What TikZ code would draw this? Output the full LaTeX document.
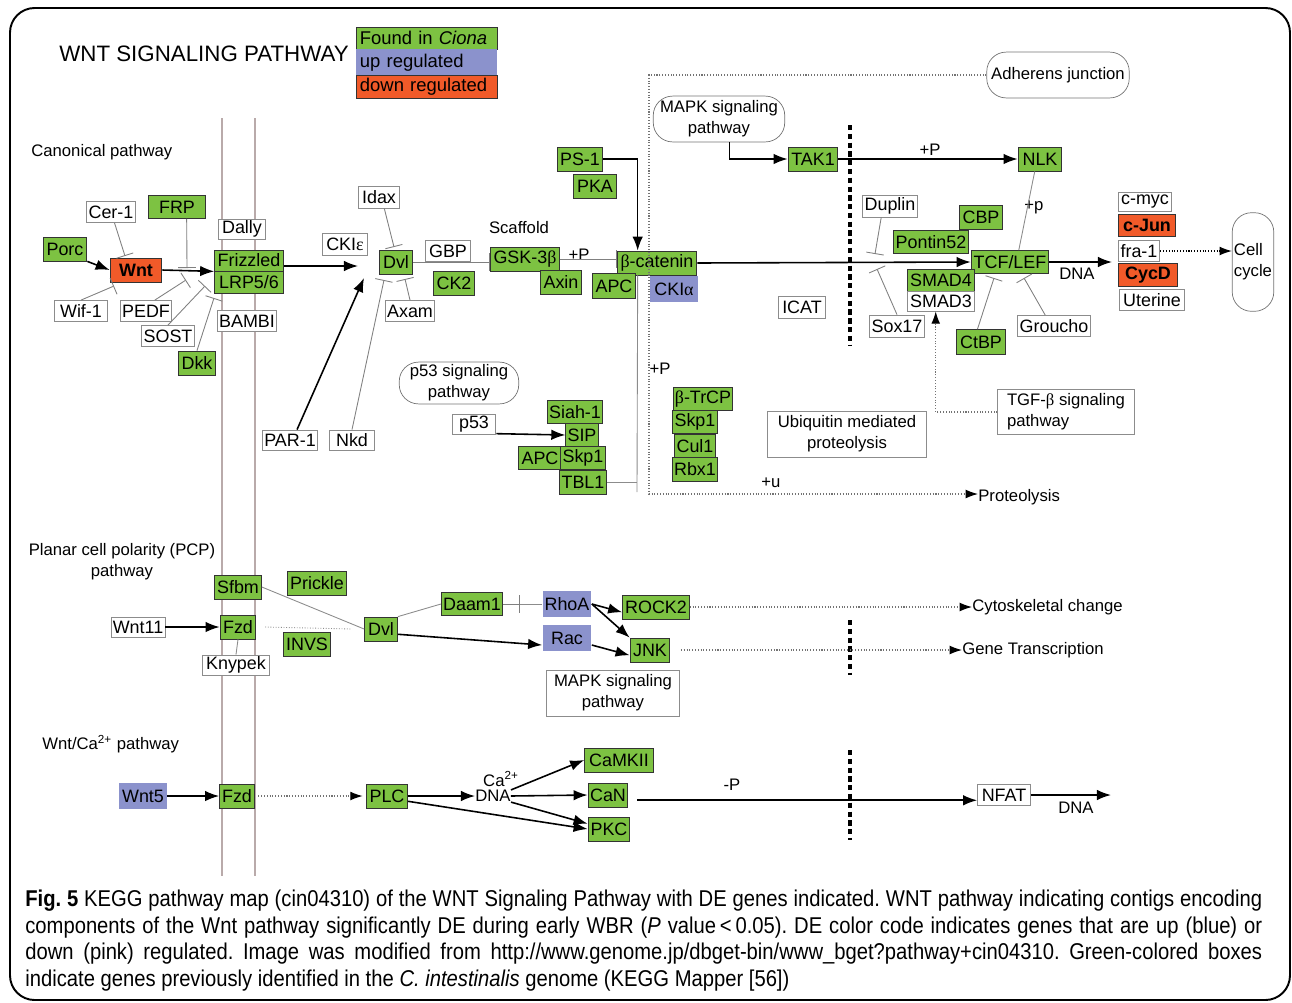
\documentclass[tikz,border=0pt]{standalone}
\usepackage{fontspec}
\setmainfont{Liberation Sans}
\newfontfamily\capfont[FakeStretch=0.885]{Liberation Sans}
\newfontfamily\grk{Liberation Serif}
\usetikzlibrary{arrows.meta}
\definecolor{found}{HTML}{7DC242}
\definecolor{upreg}{HTML}{8B92CC}
\definecolor{downreg}{HTML}{F15A29}
\definecolor{membrane}{HTML}{B9AAAA}
\newcommand\genefont{\fontsize{10.2}{12}\selectfont}
\newcommand\lblfont{\fontsize{9.5}{12}\selectfont}
\tikzset{>={Latex[length=8pt,width=6pt]},
  bw/.style={minimum width=#1*0.5669pt},
  bh/.style={minimum height=#1*0.5669pt},
  gene/.style={draw=black!80, fill=found, line width=0.5pt, font=\genefont,
    inner xsep=1pt, inner ysep=0pt, bh=24},
  other/.style={gene, draw=black!45, fill=white, bh=21},
  up/.style={gene, draw=none, fill=upreg, bh=27},
  down/.style={gene, fill=downreg, font=\genefont\bfseries},
  mapref/.style={draw=black!55, rounded corners=11pt, align=center, font=\lblfont, inner sep=1pt},
  mapbox/.style={draw=black!45, align=center, font=\lblfont, inner sep=1pt},
  lbl/.style={font=\lblfont, inner sep=0pt},
  act/.style={->, line width=0.9pt},
  inh/.style={-{Bar[width=10pt]}, draw=black!50, line width=0.5pt},
  rel/.style={draw=black!45, line width=0.5pt},
  indir/.style={-{Latex[length=7pt,width=5pt,color=black]}, draw=black!55, densely dotted, line width=0.6pt},
  membr/.style={draw=membrane, line width=1pt},
  nucl/.style={draw=black, line width=1.8pt, dash pattern=on 3pt off 2pt}}

\begin{document}
\begin{tikzpicture}[x=0.02cm, y=-0.02cm]
  \useasboundingbox (0,0) rectangle (1292,1002);
  \draw[line width=1.1pt, rounded corners=14pt] (10,8) rectangle (1290,1000);
  \node[font=\fontsize{12.7}{15}\selectfont] (title) at (204,54) {WNT SIGNALING PATHWAY};
  % legend
  \node[gene, anchor=north west, bh=22, inner xsep=2pt, text width=76pt, align=left,
    font=\fontsize{10.5}{12}\selectfont] (lgfound) at (356,27) {Found in \textit{Ciona}};
  \node[up, anchor=north west, bh=26, inner xsep=2pt, text width=76pt, align=left,
    font=\fontsize{10.5}{12}\selectfont] (lgup) at (356,49) {up regulated};
  \node[gene, fill=downreg, anchor=north west, bh=23, inner xsep=2pt, text width=76pt, align=left,
    font=\fontsize{10.5}{12}\selectfont] (lgdown) at (356,75) {down regulated};
  % membrane and nucleus
  \draw[membr] (222,118) -- (222,876);
  \draw[membr] (255,118) -- (255,876);
  \draw[nucl] (850,125) -- (850,345);
  \draw[nucl] (850,620) -- (850,675);
  \draw[nucl] (850,750) -- (850,840);

  % canonical pathway
  \node[lbl, anchor=west] (canon) at (31,152) {Canonical pathway};
  \node[other, bw=47] (cer1) at (111,212) {Cer-1};
  \node[gene, bw=58, bh=23] (frp) at (177,207) {FRP};
  \node[gene, bw=44] (porc) at (65,249) {Porc};
  \node[down, bw=52] (wnt) at (136,270) {Wnt};
  \node[other, bw=53] (wif1) at (81,311) {Wif-1};
  \node[other, bw=52] (pedf) at (146,311) {PEDF};
  \node[other, bw=53] (sost) at (168,336) {SOST};
  \node[gene, bw=37] (dkk) at (197,363) {Dkk};
  \node[other, bw=47, bh=20] (dally) at (242,229) {Dally};
  \node[gene, bw=69, bh=21] (frz) at (249,260.5) {Frizzled};
  \node[gene, bw=69, bh=22] (lrp) at (249,282) {LRP5/6};
  \node[other, bw=60] (bambi) at (247,321) {BAMBI};
  \node[other, bw=45, bh=22] (ckie) at (345,244) {CKI{\grk ε}};
  \node[other, bw=42, bh=22] (idax) at (379,197) {Idax};
  \node[gene, bw=34] (dvl) at (396,262) {Dvl};
  \node[other, bw=45] (gbp) at (448,251) {GBP};
  \node[gene, bw=42] (ck2) at (454,283) {CK2};
  \node[other, bw=49] (axam) at (410,311) {Axam};
  \node[other, bw=55, bh=20] (par1) at (290,440) {PAR-1};
  \node[other, bw=45, bh=20] (nkd) at (352,440) {Nkd};
  \node[lbl] (scaffold) at (519,228) {Scaffold};
  \node[gene, bw=70] (gsk) at (525,259) {GSK-3{\grk β}};
  \node[gene, bw=41] (axin) at (561,282) {Axin};
  \node[lbl] (gskp) at (579,255) {+P};
  \node[gene, bw=46] (ps1) at (580,159) {PS-1};
  \node[gene, bw=44] (pka) at (595,186) {PKA};
  \node[gene, bw=80] (bcat) at (657,263) {{\grk β}-catenin};
  \node[gene, bw=43, bh=25] (apc) at (614,286) {APC};
  \node[up, bw=49] (ckia) at (674,289) {CKI{\grk α}};
  \node[other, bw=48, bh=22] (icat) at (802,307) {ICAT};
  \node[mapref, bw=132, bh=46] (mapka) at (719,119) {MAPK signaling\\pathway};
  \node[mapref, bw=143, bh=46] (adh) at (1058,75) {Adherens junction};
  \node[gene, bw=50] (tak1) at (813,159) {TAK1};
  \node[gene, bw=44] (nlk) at (1040,159) {NLK};
  \node[lbl] (nlkp) at (930,150) {+P};
  \node[other, bw=56, bh=22] (duplin) at (890,206) {Duplin};
  \node[gene, bw=43] (cbp) at (981,217) {CBP};
  \node[gene, bw=75, bh=23] (pontin) at (931,242) {Pontin52};
  \node[gene, bw=78, bh=23] (tcf) at (1010,262) {TCF/LEF};
  \node[gene, bw=67, bh=22] (smad4) at (941,280) {SMAD4};
  \node[other, bw=67, bh=20] (smad3) at (941,301) {SMAD3};
  \node[other, bw=54, bh=22] (sox17) at (897,326) {Sox17};
  \node[gene, bw=49, bh=25] (ctbp) at (981,342) {CtBP};
  \node[other, bw=73] (groucho) at (1054,326) {Groucho};
  \node[lbl] (tcfp) at (1034,207) {+p};
  \node[lbl] (tcfdna) at (1077,274) {DNA};
  \node[other, bw=54, bh=19] (cmyc) at (1145,202) {c-myc};
  \node[down, bw=57, bh=22] (cjun) at (1147,225) {c-Jun};
  \node[other, bw=42] (fra1) at (1139,251) {fra-1};
  \node[down, bw=59, bh=23] (cycd) at (1148,275) {CycD};
  \node[other, bw=65] (uterine) at (1152,300) {Uterine};
  \node[mapref, bw=41, bh=99, align=left] (cellcyc) at (1253,262) {Cell\\cycle};
  \node[mapbox, bw=137, bh=45, align=left] (tgf) at (1066,412) {TGF-{\grk β} signaling\\pathway};
  \node[mapbox, bw=160, bh=46] (ubi) at (847,434) {Ubiquitin mediated\\proteolysis};
  \node[lbl] (bcatp) at (660,369) {+P};
  \node[lbl] (ubiu) at (771,483) {+u};
  \node[lbl, anchor=west] (prot) at (978,497) {Proteolysis};
  \node[mapref, bw=120, bh=42] (p53map) at (459,383) {p53 signaling\\pathway};
  \node[other, bw=44, bh=20] (p53) at (474,424) {p53};
  \node[gene, bw=52, bh=23] (siah) at (575,412) {Siah-1};
  \node[gene, bw=31, bh=23] (sip) at (582,435) {SIP};
  \node[gene, bw=43, bh=23] (apcb) at (540,458) {APC};
  \node[gene, bw=42, bh=23] (skpa) at (583,458) {Skp1};
  \node[gene, bw=43] (tbl1) at (583,482) {TBL1};
  \node[gene, bw=59, bh=23] (btrcp) at (703,399) {{\grk β}-TrCP};
  \node[gene, bw=42, bh=23] (skpb) at (695,422) {Skp1};
  \node[gene, bw=42, bh=23] (cul1) at (695,446) {Cul1};
  \node[gene, bw=42] (rbx1) at (695,469) {Rbx1};

  \coordinate (wntcer) at (125,256);
  \coordinate (wntwif) at (114,286);
  \coordinate (frpend) at (187,268);
  \coordinate (pedfend) at (186,280);
  \coordinate (sostend) at (205,286);
  \coordinate (dkkend) at (214,298);
  \coordinate (fzout) at (358,266);
  \coordinate (parend) at (364,278);
  \coordinate (nkdend) at (384,280);
  \coordinate (idaxend) at (394,247);
  \coordinate (axamend) at (405,279);
  \coordinate (duplinend) at (875,254);
  \coordinate (sox17end) at (877,269);
  \coordinate (ctbpend) at (994,278);
  \coordinate (grouchoend) at (1024,278);
  \coordinate (tcfout) at (1112,262);
  \coordinate (ubc) at (637,492);
  \coordinate (protc) at (649,494);

  \draw[act] (porc.south east) -- (wnt.west);
  \draw[inh] ([xshift=2pt]cer1.south) -- (wntcer);
  \draw[inh] (wif1.north) -- (wntwif);
  \draw[act] (wnt.east) -- (frz.south west);
  \draw[inh] ([xshift=5.5pt]frp.south) -- (frpend);
  \draw[inh] ([xshift=5pt]pedf.north) -- (pedfend);
  \draw[inh] (sost.north) -- (sostend);
  \draw[inh] (dkk.north) -- (dkkend);
  \draw[act] (fzout -| frz.east) -- (fzout);
  \draw[act] ([xshift=4pt]par1.north) -- (parend);
  \draw[inh] (nkd.north) -- (nkdend);
  \draw[inh] ([xshift=3pt]idax.south) -- (idaxend);
  \draw[inh] (axam.north) -- (axamend);
  \draw[inh] (dvl.east) -- (dvl.east -| gsk.west);
  \draw[inh] (gsk.east) -- (gsk.east -| bcat.west);
  \draw[act] (ps1.east) -| ([xshift=-11pt]bcat.north);
  \draw[act] (bcat.east) -- (tcf.west);
  \draw[rel] ([xshift=-11pt]bcat.south) -- (ubc);
  \draw[rel] (tbl1.east) -- (tbl1.east -| ubc);
  \draw[indir] (adh.west) -| (protc) -- (protc -| prot.west);
  \draw[act] ([xshift=6pt]mapka.south) |- (tak1.west);
  \draw[act] (tak1.east) -- (nlk.west);
  \draw[rel] ([xshift=-3pt]nlk.south) -- ([xshift=5pt]tcf.north);
  \draw[inh] ([xshift=-5pt]duplin.south) -- (duplinend);
  \draw[inh] (sox17.north) -- (sox17end);
  \draw[inh] ([xshift=-2pt]ctbp.north) -- (ctbpend);
  \draw[inh] ([xshift=-5pt]groucho.north) -- (grouchoend);
  \draw[act] (tcf.east) -- (tcfout);
  \draw[indir, densely dotted, draw=black] (fra1.east) -- (fra1.east -| cellcyc.west);
  \draw[indir] (tgf.west) -| ([xshift=-3pt]smad3.south);
  \draw[act] ([yshift=-5.5pt]p53.east) -- (sip.west);

  % PCP pathway
  \node[lbl, align=center] (pcp) at (122,562) {Planar cell polarity (PCP)\\pathway};
  \node[gene, bw=47] (sfbm) at (238,587) {Sfbm};
  \node[gene, bw=60] (prickle) at (317,583) {Prickle};
  \node[other, bw=54, bh=20] (wnt11) at (138,627) {Wnt11};
  \node[gene, bw=36] (fzdb) at (238,627) {Fzd};
  \node[gene, bw=48] (invs) at (307,644) {INVS};
  \node[other, bw=67, bh=20] (knypek) at (236,665) {Knypek};
  \node[gene, bw=33] (dvlb) at (381,629) {Dvl};
  \node[gene, bw=60, bh=23] (daam) at (472,604) {Daam1};
  \node[up, bw=49] (rhoa) at (567,604) {RhoA};
  \node[gene, bw=67] (rock) at (656,607) {ROCK2};
  \node[up, bw=49] (rac) at (567,638) {Rac};
  \node[gene, bw=40] (jnk) at (650,650) {JNK};
  \node[mapbox, bw=134, bh=46] (mapkb) at (613,693) {MAPK signaling\\pathway};
  \node[lbl, anchor=west] (cyto) at (972,607) {Cytoskeletal change};
  \node[lbl, anchor=west] (genetr) at (962,650) {Gene Transcription};
  \coordinate (dbar) at (520,604);

  \draw[act] (wnt11.east) -- (fzdb.west);
  \draw[rel] (sfbm.east) -- (dvlb.west);
  \draw[rel, densely dotted] ([xshift=5pt]fzdb.east) -- ([xshift=-7pt]dvlb.west);
  \draw[rel] (knypek.north) -- (fzdb.south);
  \draw[rel] (dvlb.north east) -- (daam.west);
  \draw[inh] (daam.east) -- (dbar);
  \draw[rel] (dbar) -- (rhoa.west);
  \draw[act] ([yshift=-3pt]dvlb.east) -- ([yshift=-4pt]rac.west);
  \draw[act] (rhoa.east) -- ([yshift=-3pt]rock.west);
  \draw[act] (rhoa.east) -- (jnk.north west);
  \draw[act] ([yshift=-4pt]rac.east) -- ([yshift=-3pt]jnk.west);
  \draw[indir] (rock.east) -- (rock.east -| cyto.west);
  \draw[indir] ([xshift=6pt]jnk.east) -- (jnk.east -| genetr.west);

  % Wnt/Ca2+ pathway
  \node[lbl, anchor=west] (capath) at (42,744) {Wnt/Ca\textsuperscript{2+} pathway};
  \node[up, bw=48] (wnt5) at (143,796) {Wnt5};
  \node[gene, bw=35] (fzdc) at (237,796) {Fzd};
  \node[gene, bw=41] (plc) at (387,796) {PLC};
  \node[lbl] (ca) at (501,779) {Ca\textsuperscript{2+}};
  \node[lbl] (dna) at (493,796) {DNA};
  \node[gene, bw=69] (camk) at (619,760) {CaMKII};
  \node[gene, bw=40] (can) at (608,795) {CaN};
  \node[gene, bw=42] (pkc) at (609,829) {PKC};
  \node[lbl] (canp) at (732,785) {-P};
  \node[other, bw=53] (nfat) at (1004,795) {NFAT};
  \node[lbl] (nfatdna) at (1076,808) {DNA};
  \coordinate (nfatout) at (1111,795);

  \draw[act] (wnt5.east) -- (fzdc.west);
  \draw[indir] ([xshift=2pt]fzdc.east) -- ([xshift=-2pt]plc.west);
  \draw[act] (plc.east) -- (dna.west);
  \draw[act] ([yshift=-3pt]plc.east) -- (pkc.west);
  \draw[act] (dna.north east) -- (camk.west);
  \draw[act] (dna.east) -- (can.west);
  \draw[act] (dna.south east) -- ([yshift=3pt]pkc.west);
  \draw[act] ([xshift=5pt,yshift=-3pt]can.east) -- ([yshift=-3pt]nfat.west);
  \draw[act] (nfat.east) -- (nfatout);

  % caption
  \node[anchor=north west, inner sep=0pt, align=left, font=\capfont\fontsize{13}{15.1}\selectfont\frenchspacing] (cap) at (25,890)
  {\makebox[704pt][s]{\textbf{Fig. 5} KEGG pathway map (cin04310) of the WNT Signaling Pathway with DE genes indicated. WNT pathway indicating contigs encoding}\\
   \makebox[704pt][s]{components of the Wnt pathway significantly DE during early WBR (\textit{P} value\,<\,0.05). DE color code indicates genes that are up (blue) or}\\
   \makebox[704pt][s]{down (pink) regulated. Image was modified from http://www.genome.jp/dbget-bin/www\_bget?pathway+cin04310. Green-colored boxes}\\
   indicate genes previously identified in the \textit{C. intestinalis} genome (KEGG Mapper [56])};
\end{tikzpicture}
\end{document}
